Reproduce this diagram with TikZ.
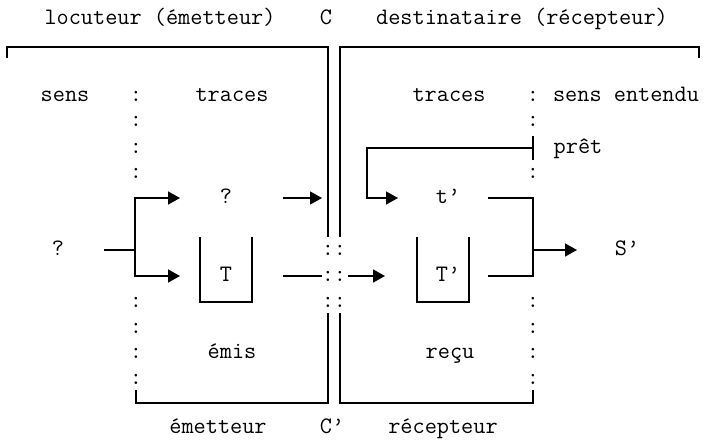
\documentclass[tikz,border=0pt]{standalone}
\usetikzlibrary{arrows.meta}

\tikzstyle{txt} = [inner sep=0pt, text height=14pt, text depth=4pt]
\tikzstyle{trait} = [line width=1.5pt]
\tikzstyle{arr} = [trait, -{Triangle[length=12pt,width=13pt]}]

\begin{document}
\begin{tikzpicture}[x=1pt, y=-1pt, font=\ttfamily\fontsize{23.6}{28}\selectfont]
        \useasboundingbox (0,0) rectangle (706,441);

        \node (loc)   [txt] at (160,20)  {locuteur (émetteur)};
        \node (C)     [txt] at (326,20)  {C};
        \node (dest)  [txt] at (522,20)  {destinataire (récepteur)};

        \node (sens)  [txt] at (65,97)   {sens};
        \node (trL)   [txt] at (232,97)  {traces};
        \node (trR)   [txt] at (449,97)  {traces};
        \node (sensE) [txt] at (626,97)  {sens entendu};
        \node (pret)  [txt] at (578,148) {prêt};

        \node (q)     [txt] at (58,250)  {?};
        \node (qs)    [txt] at (226,198) {?};
        \node (T)     [txt] at (226,276) {T};
        \node (tp)    [txt] at (448,198) {t’};
        \node (Tp)    [txt] at (448,276) {T’};
        \node (Sp)    [txt] at (627,250) {S’};

        \node (emis)  [txt] at (232,353) {émis};
        \node (recu)  [txt] at (450,353) {reçu};
        \node (emet)  [txt] at (218,428) {émetteur};
        \node (Cp)    [txt] at (332,428) {C’};
        \node (recep) [txt] at (443,428) {récepteur};

        % pointilles
        \foreach \y [count=\i] in {97,122,148,173,302,328,353,379}
            \node (dl\i) [txt] at (136,\y) {:};
        \foreach \y [count=\i] in {97,122,173,302,328,353,379}
            \node (dr\i) [txt] at (533,\y) {:};
        \foreach \y [count=\i] in {250,276,302} {
            \node (cl\i) [txt] at (328,\y) {:};
            \node (cr\i) [txt] at (340,\y) {:};
        }

        % cadres
        \draw [trait] (7,58) -- (7,47) -- (328,47) -- (328,237);
        \draw [trait] (328,313) -- (328,403) -- (136,403) -- (136,390);
        \draw [trait] (699,58) -- (699,47) -- (340,47) -- (340,237);
        \draw [trait] (340,313) -- (340,403) -- (533,403) -- (533,390);
        \draw [trait] (200,237) -- (200,302) -- (252,302) -- (252,237);
        \draw [trait] (417,237) -- (417,302) -- (469,302) -- (469,237);

        \coordinate (qOut)  at (104,250);
        \coordinate (fork)  at (135,250);
        \coordinate (fUp)   at (135,198);
        \coordinate (fDn)   at (135,276);
        \coordinate (qsIn)  at (180,198);
        \coordinate (TIn)   at (180,276);
        \coordinate (qsOut) at (283,198);
        \coordinate (qsEnd) at (322,198);
        \coordinate (TOut)  at (283,276);
        \coordinate (TEnd)  at (322,276);
        \coordinate (TpBeg) at (348,276);
        \coordinate (TpIn)  at (385,276);
        \coordinate (ptA)   at (533,136);
        \coordinate (ptB)   at (533,160);
        \coordinate (ptC)   at (533,148);
        \coordinate (ptD)   at (367,148);
        \coordinate (ptE)   at (367,198);
        \coordinate (tpIn)  at (398,198);
        \coordinate (tpOut) at (488,198);
        \coordinate (mUp)   at (533,198);
        \coordinate (mDn)   at (533,276);
        \coordinate (TpOut) at (488,276);
        \coordinate (merge) at (533,250);
        \coordinate (SpIn)  at (577,250);

        \draw [trait] (qOut) -- (fork);
        \draw [arr] (fork) -- (fUp) -- (qsIn);
        \draw [arr] (fork) -- (fDn) -- (TIn);
        \draw [arr] (qsOut) -- (qsEnd);
        \draw [trait] (TOut) -- (TEnd);
        \draw [arr] (TpBeg) -- (TpIn);
        \draw [trait] (ptA) -- (ptB);
        \draw [arr] (ptC) -- (ptD) -- (ptE) -- (tpIn);
        \draw [trait] (tpOut) -- (mUp) -- (mDn) -- (TpOut);
        \draw [arr] (merge) -- (SpIn);
    \end{tikzpicture}
\end{document}
